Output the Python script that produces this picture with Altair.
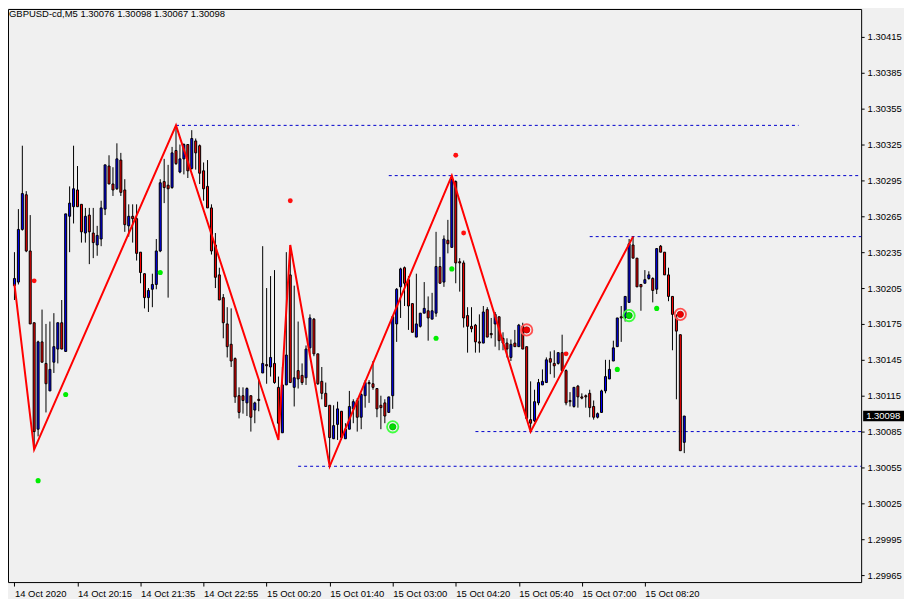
import altair as alt
import pandas as pd

# ---------------- data ----------------
title_text = "GBPUSD-cd,M5  1.30076 1.30098 1.30067 1.30098"

x_tick_labels = ["14 Oct 2020", "14 Oct 20:15", "14 Oct 21:35", "14 Oct 22:55",
                 "15 Oct 00:20", "15 Oct 01:40", "15 Oct 03:00", "15 Oct 04:20",
                 "15 Oct 05:40", "15 Oct 07:00", "15 Oct 08:20"]
x_tick_bars = [0, 16, 32, 48, 64, 80, 96, 112, 128, 144, 160]

y_tick_values = [1.29965, 1.29995, 1.30025, 1.30055, 1.30085, 1.30115, 1.30145, 1.30175,
                 1.30205, 1.30235, 1.30265, 1.30295, 1.30325, 1.30355, 1.30385, 1.30415]

opens = [1.30207, 1.30210, 1.30254, 1.30283, 1.30236, 1.30176, 1.30087, 1.30160, 1.30142, 1.30119,
         1.30143, 1.30154, 1.30176, 1.30152, 1.30265, 1.30273, 1.30287, 1.30275, 1.30251, 1.30266,
         1.30251, 1.30241, 1.30246, 1.30271, 1.30307, 1.30292, 1.30288, 1.30312, 1.30287, 1.30257,
         1.30265, 1.30263, 1.30235, 1.30217, 1.30197, 1.30204, 1.30208, 1.30236, 1.30294, 1.30291,
         1.30289, 1.30320, 1.30302, 1.30313, 1.30325, 1.30305, 1.30328, 1.30324, 1.30303, 1.30290,
         1.30272, 1.30241, 1.30216, 1.30197, 1.30175, 1.30158, 1.30146, 1.30115, 1.30115, 1.30109,
         1.30115, 1.30103, 1.30112, 1.30134, 1.30141, 1.30139, 1.30142, 1.30122, 1.30084, 1.30124,
         1.30216, 1.30122, 1.30136, 1.30132, 1.30130, 1.30155, 1.30179, 1.30150, 1.30127, 1.30117,
         1.30107, 1.30079, 1.30091, 1.30102, 1.30079, 1.30087, 1.30104, 1.30111, 1.30097, 1.30115,
         1.30126, 1.30125, 1.30121, 1.30107, 1.30109, 1.30101, 1.30115, 1.30175, 1.30206, 1.30222,
         1.30212, 1.30192, 1.30164, 1.30173, 1.30184, 1.30186, 1.30179, 1.30184, 1.30223, 1.30210,
         1.30245, 1.30239, 1.30294, 1.30227, 1.30226, 1.30182, 1.30173, 1.30174, 1.30160, 1.30159,
         1.30187, 1.30167, 1.30175, 1.30181, 1.30163, 1.30159, 1.30147, 1.30159, 1.30156, 1.30173,
         1.30156, 1.30095, 1.30094, 1.30109, 1.30124, 1.30126, 1.30146, 1.30142, 1.30142, 1.30151,
         1.30136, 1.30111, 1.30106, 1.30123, 1.30114, 1.30115, 1.30117, 1.30106, 1.30097, 1.30101,
         1.30119, 1.30129, 1.30144, 1.30156, 1.30181, 1.30180, 1.30193, 1.30241, 1.30230, 1.30208,
         1.30209, 1.30213, 1.30213, 1.30204, 1.30240, 1.30235, 1.30216, 1.30198, 1.30180, 1.30166,
         1.30076]
highs = [1.30235, 1.30271, 1.30324, 1.30286, 1.30266, 1.30176, 1.30161, 1.30187, 1.30175, 1.30177,
         1.30184, 1.30176, 1.30195, 1.30267, 1.30290, 1.30324, 1.30307, 1.30275, 1.30272, 1.30272,
         1.30272, 1.30257, 1.30278, 1.30308, 1.30316, 1.30306, 1.30326, 1.30318, 1.30296, 1.30275,
         1.30275, 1.30275, 1.30235, 1.30217, 1.30205, 1.30217, 1.30246, 1.30296, 1.30313, 1.30308,
         1.30323, 1.30341, 1.30325, 1.30326, 1.30325, 1.30337, 1.30330, 1.30325, 1.30310, 1.30312,
         1.30275, 1.30251, 1.30222, 1.30200, 1.30189, 1.30188, 1.30147, 1.30122, 1.30122, 1.30122,
         1.30115, 1.30110, 1.30128, 1.30240, 1.30205, 1.30215, 1.30220, 1.30131, 1.30139, 1.30235,
         1.30241, 1.30207, 1.30177, 1.30142, 1.30157, 1.30183, 1.30180, 1.30150, 1.30139, 1.30126,
         1.30107, 1.30107, 1.30110, 1.30102, 1.30092, 1.30119, 1.30112, 1.30113, 1.30117, 1.30128,
         1.30128, 1.30144, 1.30121, 1.30115, 1.30112, 1.30114, 1.30181, 1.30205, 1.30222, 1.30223,
         1.30215, 1.30192, 1.30217, 1.30184, 1.30210, 1.30198, 1.30201, 1.30252, 1.30231, 1.30249,
         1.30262, 1.30299, 1.30295, 1.30230, 1.30228, 1.30189, 1.30189, 1.30175, 1.30183, 1.30190,
         1.30189, 1.30180, 1.30185, 1.30181, 1.30168, 1.30163, 1.30162, 1.30170, 1.30175, 1.30176,
         1.30156, 1.30127, 1.30120, 1.30129, 1.30137, 1.30147, 1.30152, 1.30153, 1.30151, 1.30166,
         1.30137, 1.30118, 1.30122, 1.30124, 1.30117, 1.30116, 1.30120, 1.30111, 1.30101, 1.30120,
         1.30145, 1.30145, 1.30161, 1.30180, 1.30190, 1.30198, 1.30246, 1.30248, 1.30230, 1.30208,
         1.30220, 1.30219, 1.30214, 1.30238, 1.30241, 1.30235, 1.30222, 1.30198, 1.30183, 1.30166,
         1.30098]
lows = [1.30195, 1.30208, 1.30253, 1.30235, 1.30175, 1.30070, 1.30081, 1.30143, 1.30101, 1.30119,
        1.30134, 1.30142, 1.30154, 1.30152, 1.30235, 1.30259, 1.30273, 1.30243, 1.30243, 1.30225,
        1.30230, 1.30232, 1.30240, 1.30266, 1.30292, 1.30282, 1.30287, 1.30282, 1.30252, 1.30248,
        1.30243, 1.30228, 1.30209, 1.30188, 1.30185, 1.30189, 1.30204, 1.30235, 1.30276, 1.30197,
        1.30288, 1.30308, 1.30301, 1.30300, 1.30297, 1.30304, 1.30304, 1.30292, 1.30278, 1.30272,
        1.30233, 1.30205, 1.30195, 1.30163, 1.30147, 1.30139, 1.30109, 1.30096, 1.30100, 1.30098,
        1.30085, 1.30092, 1.30102, 1.30134, 1.30125, 1.30131, 1.30125, 1.30078, 1.30084, 1.30124,
        1.30126, 1.30106, 1.30121, 1.30124, 1.30124, 1.30149, 1.30148, 1.30124, 1.30112, 1.30106,
        1.30056, 1.30079, 1.30078, 1.30078, 1.30079, 1.30087, 1.30092, 1.30085, 1.30087, 1.30105,
        1.30109, 1.30120, 1.30097, 1.30087, 1.30092, 1.30101, 1.30104, 1.30160, 1.30180, 1.30190,
        1.30170, 1.30168, 1.30164, 1.30172, 1.30184, 1.30161, 1.30179, 1.30181, 1.30209, 1.30206,
        1.30234, 1.30239, 1.30209, 1.30202, 1.30172, 1.30151, 1.30168, 1.30151, 1.30151, 1.30159,
        1.30164, 1.30163, 1.30156, 1.30153, 1.30153, 1.30147, 1.30144, 1.30156, 1.30156, 1.30154,
        1.30095, 1.30085, 1.30093, 1.30107, 1.30124, 1.30126, 1.30133, 1.30130, 1.30141, 1.30135,
        1.30107, 1.30106, 1.30105, 1.30105, 1.30112, 1.30105, 1.30097, 1.30095, 1.30096, 1.30101,
        1.30117, 1.30129, 1.30144, 1.30156, 1.30160, 1.30177, 1.30193, 1.30230, 1.30206, 1.30186,
        1.30209, 1.30212, 1.30193, 1.30200, 1.30235, 1.30216, 1.30194, 1.30153, 1.30112, 1.30069,
        1.30067]
closes = [1.30213, 1.30254, 1.30284, 1.30236, 1.30175, 1.30085, 1.30160, 1.30143, 1.30125, 1.30137,
          1.30156, 1.30176, 1.30154, 1.30267, 1.30276, 1.30288, 1.30273, 1.30252, 1.30265, 1.30252,
          1.30243, 1.30249, 1.30272, 1.30308, 1.30292, 1.30287, 1.30313, 1.30285, 1.30258, 1.30265,
          1.30263, 1.30234, 1.30218, 1.30197, 1.30203, 1.30208, 1.30236, 1.30293, 1.30289, 1.30288,
          1.30318, 1.30309, 1.30313, 1.30325, 1.30303, 1.30330, 1.30318, 1.30301, 1.30288, 1.30272,
          1.30236, 1.30214, 1.30195, 1.30176, 1.30156, 1.30144, 1.30114, 1.30101, 1.30111, 1.30121,
          1.30097, 1.30109, 1.30111, 1.30142, 1.30140, 1.30147, 1.30126, 1.30092, 1.30124, 1.30149,
          1.30126, 1.30130, 1.30129, 1.30126, 1.30154, 1.30180, 1.30150, 1.30125, 1.30117, 1.30106,
          1.30080, 1.30090, 1.30104, 1.30080, 1.30087, 1.30106, 1.30110, 1.30097, 1.30116, 1.30126,
          1.30125, 1.30122, 1.30104, 1.30105, 1.30098, 1.30114, 1.30181, 1.30204, 1.30221, 1.30209,
          1.30190, 1.30168, 1.30175, 1.30184, 1.30188, 1.30180, 1.30186, 1.30223, 1.30209, 1.30246,
          1.30242, 1.30296, 1.30226, 1.30226, 1.30180, 1.30173, 1.30171, 1.30160, 1.30159, 1.30185,
          1.30164, 1.30166, 1.30183, 1.30161, 1.30159, 1.30154, 1.30158, 1.30156, 1.30174, 1.30154,
          1.30096, 1.30092, 1.30110, 1.30126, 1.30127, 1.30145, 1.30143, 1.30140, 1.30151, 1.30136,
          1.30109, 1.30110, 1.30122, 1.30114, 1.30113, 1.30114, 1.30105, 1.30097, 1.30100, 1.30119,
          1.30131, 1.30137, 1.30155, 1.30180, 1.30180, 1.30198, 1.30242, 1.30230, 1.30206, 1.30206,
          1.30212, 1.30216, 1.30203, 1.30238, 1.30235, 1.30216, 1.30198, 1.30183, 1.30169, 1.30069,
          1.30098]

# zigzag pivots
zz_bars = [0, 5, 41, 67, 70, 80, 111, 131, 157]
zz_prices = [1.30208, 1.30070, 1.30341, 1.30078, 1.30241, 1.30056, 1.30299, 1.30085, 1.30248]

# dashed levels
lvl_prices = [1.30341, 1.30299, 1.30248, 1.30085, 1.30056]
lvl_start = [41, 95, 146, 117, 72]
lvl_end = [199, 216, 216, 216, 216]

# signal dots
red_dot_bars = [5, 70, 112, 114, 140]
red_dot_prices = [1.30211, 1.30278, 1.30316, 1.30251, 1.30150]
green_dot_bars = [6, 13, 37, 107, 111, 153, 163]
green_dot_prices = [1.30044, 1.30116, 1.30218, 1.30163, 1.30221, 1.30137, 1.30188]
green_ring_bars = [96, 156]
green_ring_prices = [1.30089, 1.30182]
red_ring_bars = [130, 169]
red_ring_prices = [1.30170, 1.30183]

last_price = [1.30098]

# ---------------- chart ----------------
FONT = "Liberation Sans"
FS = 9.5

label_expr = "[" + ",".join("'%s'" % s for s in x_tick_labels) + "][round(datum.value/16)]"

xscale = alt.Scale(domain=[-0.375, 213.625], nice=False, zero=False)
yscale = alt.Scale(domain=[1.299592, 1.304383], nice=False, zero=False)

xaxis = alt.Axis(values=x_tick_bars, labelExpr=label_expr, orient="bottom", title=None,
                 grid=False, domain=False, tickSize=4, tickColor="black", labelAlign="left",
                 labelPadding=2, labelFont=FONT, labelFontSize=FS, labelColor="black",
                 labelOverlap=False, labelFlush=False, labelBound=False)
yaxis = alt.Axis(values=y_tick_values, format=".5f", orient="right", title=None, grid=False,
                 domain=False, tickSize=3, tickColor="black", labelPadding=3, labelFont=FONT,
                 labelFontSize=FS, labelColor="black", labelOverlap=False, labelFlush=False,
                 labelBound=False)


def X(f):
    return alt.X(f, type="quantitative", scale=xscale, axis=xaxis)


def Y(f):
    return alt.Y(f, type="quantitative", scale=yscale, axis=yaxis)


candles = pd.DataFrame({"bar": list(range(len(opens))), "o": opens, "h": highs,
                        "l": lows, "c": closes})

wicks = alt.Chart(candles).mark_rule(color="black", strokeWidth=1).encode(
    x=X("bar"), y=Y("l"), y2="h")

bodies = alt.Chart(candles).mark_bar(size=2, stroke="black", strokeWidth=1).encode(
    x=X("bar"), y=Y("o"), y2="c",
    fill=alt.condition("datum.c >= datum.o", alt.value("#0000ff"), alt.value("#ff0000")))

levels = pd.DataFrame({"p": lvl_prices, "s": lvl_start, "e": lvl_end})
level_rules = alt.Chart(levels).mark_rule(color="#0000cc", strokeWidth=1, strokeDash=[3, 3],
                                          clip=True).encode(x=X("s"), x2="e", y=Y("p"))

zz = pd.DataFrame({"bar": zz_bars, "p": zz_prices})
zigzag = alt.Chart(zz).mark_line(color="#ff0000", strokeWidth=2, clip=True).encode(
    x=X("bar"), y=Y("p"), order="bar:Q")

rd = pd.DataFrame({"bar": red_dot_bars, "p": red_dot_prices})
gd = pd.DataFrame({"bar": green_dot_bars, "p": green_dot_prices})
gr = pd.DataFrame({"bar": green_ring_bars, "p": green_ring_prices})
rr = pd.DataFrame({"bar": red_ring_bars, "p": red_ring_prices})

red_dots = alt.Chart(rd).mark_circle(color="#ff1010", size=24, opacity=1).encode(
    x=X("bar"), y=Y("p"))
green_dots = alt.Chart(gd).mark_circle(color="#00ee00", size=26, opacity=1).encode(
    x=X("bar"), y=Y("p"))
green_ring_o = alt.Chart(gr).mark_point(shape="circle", filled=False, color="#40ff40",
                                        strokeWidth=1.8, size=130, opacity=1).encode(
    x=X("bar"), y=Y("p"))
green_ring_i = alt.Chart(gr).mark_circle(color="#00dd00", size=40, opacity=1,
                                         stroke="#00aa00", strokeWidth=0.8).encode(
    x=X("bar"), y=Y("p"))
red_ring_o = alt.Chart(rr).mark_point(shape="circle", filled=False, color="#ff5050",
                                      strokeWidth=1.8, size=130, opacity=1).encode(
    x=X("bar"), y=Y("p"))
red_ring_i = alt.Chart(rr).mark_circle(color="#ee0000", size=40, opacity=1,
                                       stroke="#bb0000", strokeWidth=0.8).encode(
    x=X("bar"), y=Y("p"))

lp = pd.DataFrame({"p": last_price})
price_box = alt.Chart(lp).mark_rect(color="black").transform_calculate(
    p1="datum.p - 0.000044", p2="datum.p + 0.000044").encode(
    x=alt.value(858), x2=alt.value(899), y=Y("p1"), y2="p2")
price_text = alt.Chart(lp).mark_text(align="left", baseline="middle", color="white",
                                     font=FONT, fontSize=FS).encode(
    x=alt.value(861), y=Y("p"), text=alt.Text("p:Q", format=".5f"))

tt = pd.DataFrame({"t": [title_text]})
title = alt.Chart(tt).mark_text(align="left", baseline="middle", color="black", font=FONT,
                                fontSize=FS).encode(x=alt.value(1), y=alt.value(5), text="t:N")

chart = alt.layer(
    level_rules, wicks, bodies, zigzag, red_dots, green_dots,
    green_ring_o, green_ring_i, red_ring_o, red_ring_i, price_box, price_text, title
).properties(
    width=856, height=575, padding={"left": 0, "top": 0, "right": 0, "bottom": 0},
    background="#f0f0f0"
).configure_view(stroke="black", strokeWidth=1, fill="#f0f0f0")

chart.save("out.html", embed_options={"renderer": "svg", "actions": False})
